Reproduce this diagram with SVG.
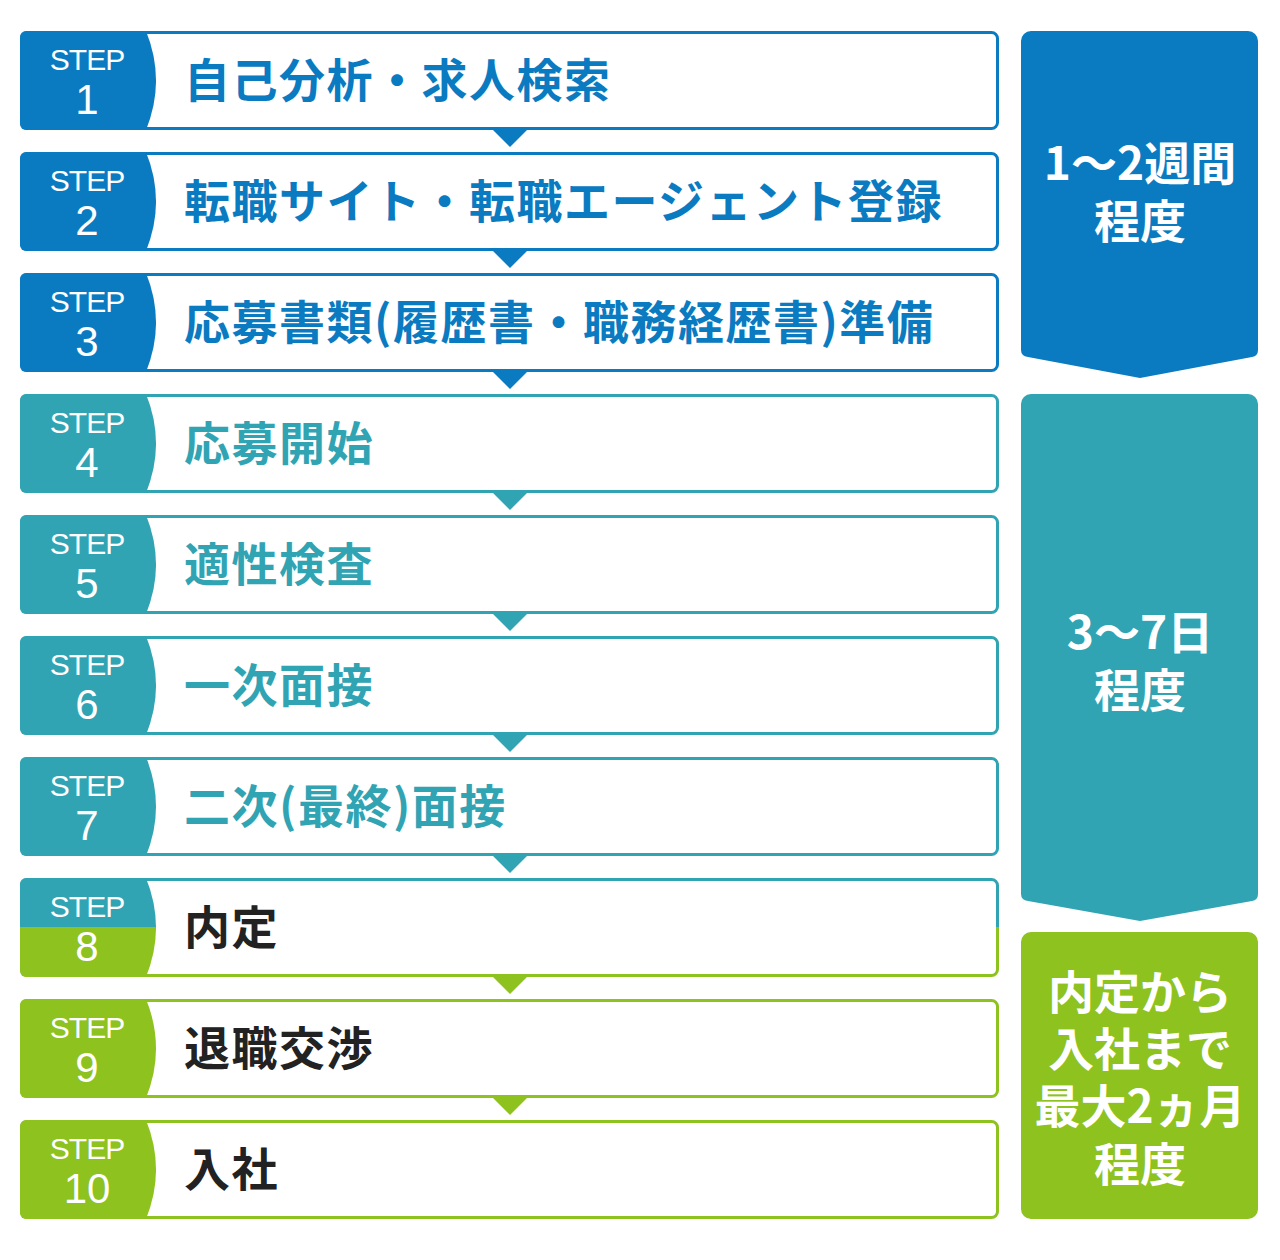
<svg xmlns="http://www.w3.org/2000/svg" width="1280" height="1260" viewBox="0 0 1280 1260">
<style>
.box{fill:#fff;stroke-width:3}
.b .box{stroke:#0a7bc1}.b .bd{fill:#0a7bc1}.b .tt{fill:#0a7bc1}
.t .box{stroke:#31a4b4}.t .bd{fill:#31a4b4}.t .tt{fill:#31a4b4}
.g .box{stroke:#8dc21f}.g .bd{fill:#8dc21f}.g .tt{fill:#222}
.m .box{stroke:url(#split)}.m .bd{fill:url(#split)}.m .tt{fill:#222}
.st{font-family:"Liberation Sans",Arial,sans-serif;fill:#fff;text-anchor:middle}
.s1{font-size:30px;letter-spacing:-1px}.s2{font-size:42px}
.tt{font-family:"Noto Sans CJK JP",sans-serif;font-weight:bold;font-size:46px;letter-spacing:1.5px}
.pn{font-family:"Noto Sans CJK JP",sans-serif;font-weight:bold;font-size:46px;fill:#fff;text-anchor:middle}
</style>
<defs>
<linearGradient id="split" x1="0" y1="0" x2="0" y2="1"><stop offset="0.5" stop-color="#31a4b4"/><stop offset="0.5" stop-color="#8dc21f"/></linearGradient>
</defs>
<g id="connectors">
<polygon points="492,129 528,129 510,147" fill="#0a7bc1"/>
<polygon points="492,250 528,250 510,268" fill="#0a7bc1"/>
<polygon points="492,371 528,371 510,389" fill="#0a7bc1"/>
<polygon points="492,492 528,492 510,510" fill="#31a4b4"/>
<polygon points="492,613 528,613 510,631" fill="#31a4b4"/>
<polygon points="492,734 528,734 510,752" fill="#31a4b4"/>
<polygon points="492,855 528,855 510,873" fill="#31a4b4"/>
<polygon points="492,976 528,976 510,994" fill="#8dc21f"/>
<polygon points="492,1097 528,1097 510,1115" fill="#8dc21f"/>
</g>
<g id="step1" class="b" transform="translate(0,31)"><rect class="box" x="21.5" y="1.5" width="976" height="96" rx="6"/><path class="bd" d="M26,0 H146 Q166,49.5 146,99 H26 A6,6 0 0 1 20,93 V6 A6,6 0 0 1 26,0Z"/><text class="st s1" x="87" y="39">STEP</text><text class="st s2" x="87" y="83">1</text><text class="tt" x="184" y="66">自己分析・求人検索</text></g>
<g id="step2" class="b" transform="translate(0,152)"><rect class="box" x="21.5" y="1.5" width="976" height="96" rx="6"/><path class="bd" d="M26,0 H146 Q166,49.5 146,99 H26 A6,6 0 0 1 20,93 V6 A6,6 0 0 1 26,0Z"/><text class="st s1" x="87" y="39">STEP</text><text class="st s2" x="87" y="83">2</text><text class="tt" x="184" y="66">転職サイト・転職エージェント登録</text></g>
<g id="step3" class="b" transform="translate(0,273)"><rect class="box" x="21.5" y="1.5" width="976" height="96" rx="6"/><path class="bd" d="M26,0 H146 Q166,49.5 146,99 H26 A6,6 0 0 1 20,93 V6 A6,6 0 0 1 26,0Z"/><text class="st s1" x="87" y="39">STEP</text><text class="st s2" x="87" y="83">3</text><text class="tt" x="184" y="66">応募書類(履歴書・職務経歴書)準備</text></g>
<g id="step4" class="t" transform="translate(0,394)"><rect class="box" x="21.5" y="1.5" width="976" height="96" rx="6"/><path class="bd" d="M26,0 H146 Q166,49.5 146,99 H26 A6,6 0 0 1 20,93 V6 A6,6 0 0 1 26,0Z"/><text class="st s1" x="87" y="39">STEP</text><text class="st s2" x="87" y="83">4</text><text class="tt" x="184" y="66">応募開始</text></g>
<g id="step5" class="t" transform="translate(0,515)"><rect class="box" x="21.5" y="1.5" width="976" height="96" rx="6"/><path class="bd" d="M26,0 H146 Q166,49.5 146,99 H26 A6,6 0 0 1 20,93 V6 A6,6 0 0 1 26,0Z"/><text class="st s1" x="87" y="39">STEP</text><text class="st s2" x="87" y="83">5</text><text class="tt" x="184" y="66">適性検査</text></g>
<g id="step6" class="t" transform="translate(0,636)"><rect class="box" x="21.5" y="1.5" width="976" height="96" rx="6"/><path class="bd" d="M26,0 H146 Q166,49.5 146,99 H26 A6,6 0 0 1 20,93 V6 A6,6 0 0 1 26,0Z"/><text class="st s1" x="87" y="39">STEP</text><text class="st s2" x="87" y="83">6</text><text class="tt" x="184" y="66">一次面接</text></g>
<g id="step7" class="t" transform="translate(0,757)"><rect class="box" x="21.5" y="1.5" width="976" height="96" rx="6"/><path class="bd" d="M26,0 H146 Q166,49.5 146,99 H26 A6,6 0 0 1 20,93 V6 A6,6 0 0 1 26,0Z"/><text class="st s1" x="87" y="39">STEP</text><text class="st s2" x="87" y="83">7</text><text class="tt" x="184" y="66">二次(最終)面接</text></g>
<g id="step8" class="m" transform="translate(0,878)"><rect class="box" x="21.5" y="1.5" width="976" height="96" rx="6"/><path class="bd" d="M26,0 H146 Q166,49.5 146,99 H26 A6,6 0 0 1 20,93 V6 A6,6 0 0 1 26,0Z"/><text class="st s1" x="87" y="39">STEP</text><text class="st s2" x="87" y="83">8</text><text class="tt" x="184" y="66">内定</text></g>
<g id="step9" class="g" transform="translate(0,999)"><rect class="box" x="21.5" y="1.5" width="976" height="96" rx="6"/><path class="bd" d="M26,0 H146 Q166,49.5 146,99 H26 A6,6 0 0 1 20,93 V6 A6,6 0 0 1 26,0Z"/><text class="st s1" x="87" y="39">STEP</text><text class="st s2" x="87" y="83">9</text><text class="tt" x="184" y="66">退職交渉</text></g>
<g id="step10" class="g" transform="translate(0,1120)"><rect class="box" x="21.5" y="1.5" width="976" height="96" rx="6"/><path class="bd" d="M26,0 H146 Q166,49.5 146,99 H26 A6,6 0 0 1 20,93 V6 A6,6 0 0 1 26,0Z"/><text class="st s1" x="87" y="39">STEP</text><text class="st s2" x="87" y="83">10</text><text class="tt" x="184" y="66">入社</text></g>
<g id="period1"><path d="M1031,31 H1248 A10,10 0 0 1 1258,41 V350 Q1258,356 1252,357 L1140,378 L1028,357 Q1021,356 1021,350 V41 A10,10 0 0 1 1031,31Z" fill="#0a7bc1"/><text class="pn" x="1140" y="180">1〜2週間</text><text class="pn" x="1140" y="238">程度</text></g>
<g id="period2"><path d="M1031,394 H1248 A10,10 0 0 1 1258,404 V894 Q1258,900 1252,901 L1140,921 L1028,901 Q1021,900 1021,894 V404 A10,10 0 0 1 1031,394Z" fill="#31a4b4"/><text class="pn" x="1140" y="649">3〜7日</text><text class="pn" x="1140" y="707">程度</text></g>
<g id="period3"><rect x="1021" y="932" width="237" height="287" rx="10" fill="#8dc21f"/><text class="pn" x="1140" y="1009">内定から</text><text class="pn" x="1140" y="1066">入社まで</text><text class="pn" x="1140" y="1123">最大2ヵ月</text><text class="pn" x="1140" y="1181">程度</text></g>
</svg>
